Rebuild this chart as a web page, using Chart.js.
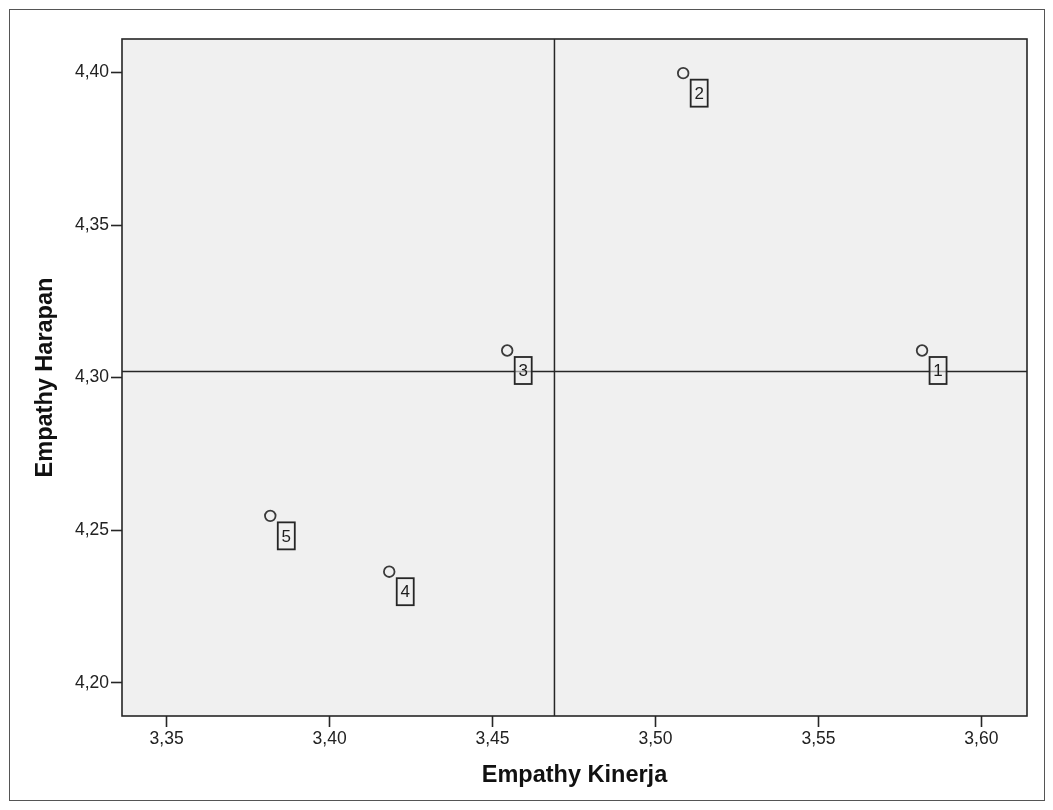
<!DOCTYPE html>
<html>
<head>
<meta charset="utf-8">
<script src="https://cdn.jsdelivr.net/npm/chart.js@4.4.1/dist/chart.umd.min.js"></script>
<style>
  body { margin: 0; background: #fff; }
  #wrap { width: 1053px; height: 810px; }
</style>
</head>
<body>
<div id="wrap"><canvas id="myChart" width="1053" height="810"></canvas></div>
<script>
// data
var pointLabels = ['1', '2', '3', '4', '5'];
var kinerja = [3.5818, 3.5085, 3.4545, 3.4183, 3.3818];
var harapan = [4.3089, 4.3998, 4.3089, 4.2364, 4.2547];
var xTicks = [3.35, 3.40, 3.45, 3.50, 3.55, 3.60];
var yTicks = [4.20, 4.25, 4.30, 4.35, 4.40];
var refX = 3.469;   // vertical reference line
var refY = 4.302;   // horizontal reference line
var xMin = 3.3363, xMax = 3.6140;
var yMin = 4.1891, yMax = 4.4110;

var FONT = "'Liberation Sans', Arial, sans-serif";
var INK = '#262626';

function fmt(v) {
    return v.toFixed(2).replace('.', ',');
}

var points = kinerja.map(function (x, i) { return { x: x, y: harapan[i] }; });

// plot background, plot frame, outer frame
var framePlugin = {
    id: 'frames',
    beforeDraw: function (chart) {
        var c = chart.ctx, a = chart.chartArea;
        c.save();
        c.fillStyle = '#fff';
        c.fillRect(0, 0, chart.width, chart.height);
        c.strokeStyle = '#555';
        c.lineWidth = 1;
        c.strokeRect(9.5, 9.5, 1035, 791);
        c.fillStyle = '#f0f0f0';
        c.fillRect(a.left, a.top, a.right - a.left, a.bottom - a.top);
        c.restore();
    },
    afterDraw: function (chart) {
        var c = chart.ctx, a = chart.chartArea;
        c.save();
        c.strokeStyle = INK;
        c.lineWidth = 1.6;
        c.strokeRect(a.left, a.top, a.right - a.left, a.bottom - a.top);
        c.restore();
    }
};

// boxed case numbers next to each point
var boxPlugin = {
    id: 'caseBoxes',
    afterDatasetsDraw: function (chart) {
        var meta = chart.getDatasetMeta(2);
        var c = chart.ctx;
        c.save();
        c.font = '17px ' + FONT;
        c.textAlign = 'center';
        c.textBaseline = 'middle';
        meta.data.forEach(function (pt, i) {
            var bx = pt.x + 7.5, by = pt.y + 6.5, bw = 17, bh = 27;
            c.fillStyle = 'rgba(240,240,240,0.6)';
            c.fillRect(bx, by, bw, bh);
            c.strokeStyle = INK;
            c.lineWidth = 1.8;
            c.strokeRect(bx, by, bw, bh);
            c.fillStyle = '#1e1e1e';
            c.fillText(pointLabels[i], bx + bw / 2, by + bh / 2 + 1);
        });
        c.restore();
    }
};

var ctx = document.getElementById('myChart').getContext('2d');
var myChart = new Chart(ctx, {
    type: 'scatter',
    data: {
        datasets: [{
            type: 'line',
            data: [{ x: refX, y: yMin }, { x: refX, y: yMax }],
            borderColor: INK,
            borderWidth: 1.5,
            pointRadius: 0,
            fill: false
        }, {
            type: 'line',
            data: [{ x: xMin, y: refY }, { x: xMax, y: refY }],
            borderColor: INK,
            borderWidth: 1.5,
            pointRadius: 0,
            fill: false
        }, {
            data: points,
            pointRadius: 5.3,
            pointBorderWidth: 1.8,
            pointBorderColor: '#3a3a3a',
            pointBackgroundColor: 'rgba(0,0,0,0)'
        }]
    },
    options: {
        responsive: false,
        animation: false,
        layout: { padding: { left: 0, top: 39, right: 26, bottom: 0 } },
        plugins: {
            legend: { display: false },
            tooltip: { enabled: false }
        },
        scales: {
            x: {
                type: 'linear',
                min: xMin,
                max: xMax,
                afterBuildTicks: function (scale) {
                    scale.ticks = xTicks.map(function (v) { return { value: v }; });
                },
                afterFit: function (scale) { scale.height = 94; },
                grid: { drawOnChartArea: false, tickLength: 11, tickColor: INK, tickWidth: 1.6 },
                border: { display: false },
                ticks: {
                    padding: 2,
                    color: '#222',
                    font: { family: FONT, size: 17.5 },
                    callback: function (v) { return fmt(v); }
                },
                title: {
                    display: true,
                    text: 'Empathy Kinerja',
                    color: '#111',
                    font: { family: FONT, size: 23.5, weight: 'bold' },
                    padding: { top: 0, bottom: 20 }
                }
            },
            y: {
                type: 'linear',
                min: yMin,
                max: yMax,
                afterBuildTicks: function (scale) {
                    scale.ticks = yTicks.map(function (v) { return { value: v }; });
                },
                afterFit: function (scale) { scale.width = 122; },
                grid: { drawOnChartArea: false, tickLength: 11, tickColor: INK, tickWidth: 1.6 },
                border: { display: false },
                ticks: {
                    padding: 2,
                    color: '#222',
                    font: { family: FONT, size: 17.5 },
                    callback: function (v) { return fmt(v); }
                },
                title: {
                    display: true,
                    text: 'Empathy Harapan',
                    color: '#111',
                    font: { family: FONT, size: 23.5, weight: 'bold' },
                    padding: { top: 31, bottom: 0 }
                }
            }
        }
    },
    plugins: [framePlugin, boxPlugin]
});
</script>
</body>
</html>
